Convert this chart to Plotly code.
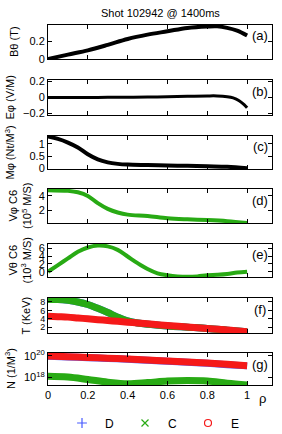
import plotly.graph_objects as go

W, H = 282, 434

# ---------------- data ----------------
rho_a = [0, 0.1, 0.2, 0.3, 0.4, 0.5, 0.6, 0.7, 0.8, 0.85, 0.9, 0.95, 1.0]
b_theta = [0, 0.05, 0.098, 0.16, 0.227, 0.276, 0.314, 0.352, 0.368, 0.37, 0.352, 0.32, 0.265]

rho_b = [0, 0.1, 0.2, 0.3, 0.4, 0.5, 0.6, 0.7, 0.8, 0.85, 0.9, 0.93, 0.96, 0.985, 1.0]
e_phi = [0.0, 0.0, 0.0, 0.002, 0.004, 0.006, 0.01, 0.015, 0.02, 0.02, 0.01, -0.005, -0.04, -0.09, -0.13]

rho_c = [0, 0.05, 0.1, 0.15, 0.2, 0.25, 0.3, 0.35, 0.4, 0.5, 0.6, 0.7, 0.8, 0.9, 1.0]
m_phi = [1.3, 1.2, 1.05, 0.85, 0.57, 0.36, 0.24, 0.18, 0.15, 0.13, 0.11, 0.1, 0.08, 0.06, 0.0]

rho_d = [0, 0.1, 0.15, 0.2, 0.25, 0.3, 0.35, 0.4, 0.5, 0.6, 0.7, 0.8, 0.9, 1.0]
v_phi = [4.8, 4.7, 4.5, 4.0, 3.0, 2.2, 1.7, 1.4, 1.2, 0.9, 0.75, 0.65, 0.5, 0.25]

rho_e = [0, 0.05, 0.1, 0.15, 0.2, 0.25, 0.3, 0.35, 0.4, 0.45, 0.5, 0.55, 0.6, 0.65,
         0.7, 0.75, 0.8, 0.85, 0.9, 0.95, 1.0]
v_theta = [0.0, 1.7, 3.4, 5.1, 6.2, 6.7, 6.5, 5.6, 3.9, 2.2, 0.7, -0.4, -0.9, -1.2,
           -1.3, -1.2, -0.9, -0.8, -0.6, -0.2, 0.0]

rho_f = [0, 0.05, 0.1, 0.15, 0.2, 0.25, 0.3, 0.35, 0.4, 0.45, 0.5, 0.6, 0.7, 0.8, 0.9, 1.0]
T_D = [8.6, 8.6, 8.4, 8.0, 7.4, 6.5, 5.5, 4.4, 3.5, 3.0, 2.7, 2.3, 2.0, 1.7, 1.3, 0.9]
T_C = [8.6, 8.6, 8.4, 8.0, 7.4, 6.5, 5.5, 4.4, 3.5, 3.0, 2.7, 2.3, 2.0, 1.7, 1.3, 0.9]
T_E = [4.6, 4.5, 4.4, 4.2, 4.0, 3.8, 3.6, 3.4, 3.2, 3.0, 2.8, 2.4, 2.05, 1.7, 1.35, 0.9]

rho_g = [0, 0.1, 0.2, 0.3, 0.4, 0.5, 0.6, 0.7, 0.8, 0.9, 1.0]
N_D = [9.0e19, 7.9e19, 6.7e19, 5.7e19, 4.7e19, 3.9e19, 3.1e19, 2.5e19, 2.0e19, 1.5e19, 1.15e19]
N_C = [1.26e18, 1.05e18, 6.2e17, 3.5e17, 2.5e17, 3.2e17, 4.5e17, 5.0e17, 4.5e17, 2.8e17, 1.9e17]
N_E = [9.55e19, 8.3e19, 7.1e19, 6.0e19, 5.0e19, 4.1e19, 3.3e19, 2.6e19, 2.1e19, 1.6e19, 1.2e19]

x_ticks = [0, 0.2, 0.4, 0.6, 0.8, 1]
x_ticktext = ["0", "0.2", "0.4", "0.6", "0.8", "1"]

panel_labels = ["(a)", "(b)", "(c)", "(d)", "(e)", "(f)", "(g)"]
y_titles = ["Bθ (T)", "Eφ (V/M)", "Mφ (Nt/M<sup>3</sup>)", "Vφ C6<br>(10<sup>5</sup> M/S)",
            "Vθ C6<br>(10<sup>3</sup> M/S)", "T (KeV)", "N (1/M<sup>3</sup>)"]
species = ["D", "C", "E"]
title_text = "Shot 102942 @ 1400ms"

# ---------------- style ----------------
GREEN = "rgb(40,170,20)"
RED = "rgb(245,25,25)"
BLUE = "rgb(70,90,255)"
FONT = "Liberation Sans, Arial, sans-serif"

# panel boxes in pixels (top, bottom)
boxes = [(25, 59), (80, 115), (136, 169), (189, 223), (244, 277), (298, 333), (353, 385)]
x_left, x_right = 48, 272

def px(xs):
    return xs / W

def py(ys):
    return 1 - ys / H

fig = go.Figure()

def ax(i):
    return ("x" if i == 0 else f"x{i+1}"), ("y" if i == 0 else f"y{i+1}")

def add_line(i, x, y, color, width, name=None):
    xa, ya = ax(i)
    fig.add_trace(go.Scatter(x=x, y=y, mode="lines", line=dict(color=color, width=width, shape="spline"),
                             xaxis=xa, yaxis=ya, showlegend=False, name=name or ""))

add_line(0, rho_a, b_theta, "black", 4)
add_line(1, rho_b, e_phi, "black", 3)
add_line(2, rho_c, m_phi, "black", 4)
add_line(3, rho_d, v_phi, GREEN, 4)
add_line(4, rho_e, v_theta, GREEN, 4)
add_line(5, rho_f, T_D, BLUE, 7, "D")
add_line(5, rho_f, T_C, GREEN, 7, "C")
add_line(5, rho_f, T_E, RED, 7, "E")
add_line(6, rho_g, N_D, BLUE, 7, "D")
add_line(6, rho_g, N_C, GREEN, 7, "C")
add_line(6, rho_g, N_E, RED, 7, "E")

# legend entries
leg_sym = {"D": ("cross-thin-open", BLUE), "C": ("x-thin-open", GREEN), "E": ("circle-open", RED)}
for s in species:
    sym, col = leg_sym[s]
    fig.add_trace(go.Scatter(x=[None], y=[None], mode="markers", name=s,
                             marker=dict(symbol=sym, color=col, size=7, line=dict(color=col, width=1.2)),
                             xaxis="x7", yaxis="y7", showlegend=True))

y_ranges = [[0, 0.385], [-0.22, 0.22], [-0.03, 1.32], [0.24, 4.96], [-1.35, 7.1],
            [0.62, 8.95], [17.28, 20.26]]
y_ticks = [[0, 0.2], [-0.2, 0, 0.2], [0, 0.5, 1], [2, 4], [0, 2, 4, 6], [2, 4, 6, 8], [1e18, 1e20]]
y_ticktext = [["0", "0.2"], ["−0.2", "0", "0.2"], ["0", "0.5", "1"], ["2", "4"], ["0", "2", "4", "6"],
              ["2", "4", "6", "8"], ["10<sup>18</sup>", "10<sup>20</sup>"]]

layout = dict(
    width=W, height=H, margin=dict(l=0, r=0, t=0, b=0, autoexpand=False),
    paper_bgcolor="white", plot_bgcolor="white",
    font=dict(family=FONT, size=11, color="black"),
    showlegend=True,
    legend=dict(orientation="h", xref="container", yref="container",
                x=59 / W, xanchor="left", y=py(423), yanchor="middle",
                font=dict(size=12), entrywidth=12, itemwidth=36, bgcolor="rgba(0,0,0,0)",
                itemclick=False, itemdoubleclick=False),
)
annotations = []
for i in range(7):
    top, bot = boxes[i]
    xkey = "xaxis" if i == 0 else f"xaxis{i+1}"
    ykey = "yaxis" if i == 0 else f"yaxis{i+1}"
    layout[xkey] = dict(domain=[px(x_left), px(x_right)], range=[0, 1.125], anchor=ax(i)[1],
                        tickvals=x_ticks, ticktext=x_ticktext, showticklabels=(i == 6),
                        ticks="inside", ticklen=4, tickcolor="black", showgrid=False, zeroline=False,
                        showline=True, linecolor="black", linewidth=1, mirror="ticks",
                        tickfont=dict(size=11), automargin=False)
    ydict = dict(domain=[py(bot), py(top)], range=y_ranges[i], anchor=ax(i)[0],
                 tickvals=y_ticks[i], ticktext=y_ticktext[i],
                 ticks="inside", ticklen=4, tickcolor="black", showgrid=False, zeroline=False,
                 showline=True, linecolor="black", linewidth=1, mirror="ticks",
                 tickfont=dict(size=11 if i != 5 else 9), automargin=False)
    if i == 6:
        ydict["type"] = "log"
    layout[ykey] = ydict
    # panel label
    annotations.append(dict(text=panel_labels[i], x=px(260), y=py(top + 11), xref="paper", yref="paper",
                            showarrow=False, font=dict(size=13), xanchor="center", yanchor="middle"))
    # y title
    xt = {0: 14, 1: 9, 2: 9, 3: 20, 4: 19, 5: 25, 6: 10}[i]
    annotations.append(dict(text=y_titles[i], x=px(xt), y=py((top + bot) / 2), xref="paper", yref="paper",
                            showarrow=False, textangle=-90, font=dict(size=11),
                            xanchor="center", yanchor="middle"))

annotations.append(dict(text=title_text, x=px((x_left + x_right) / 2), y=py(13), xref="paper", yref="paper",
                        showarrow=False, font=dict(size=11), xanchor="center", yanchor="middle"))
annotations.append(dict(text="ρ", x=px(262), y=py(398), xref="paper", yref="paper",
                        showarrow=False, font=dict(size=13), xanchor="center", yanchor="middle"))
layout["annotations"] = annotations
fig.update_layout(**layout)
fig.write_html("out.html", config={"displayModeBar": False},
               post_script="document.body.style.margin='0';document.body.style.overflow='hidden';")
